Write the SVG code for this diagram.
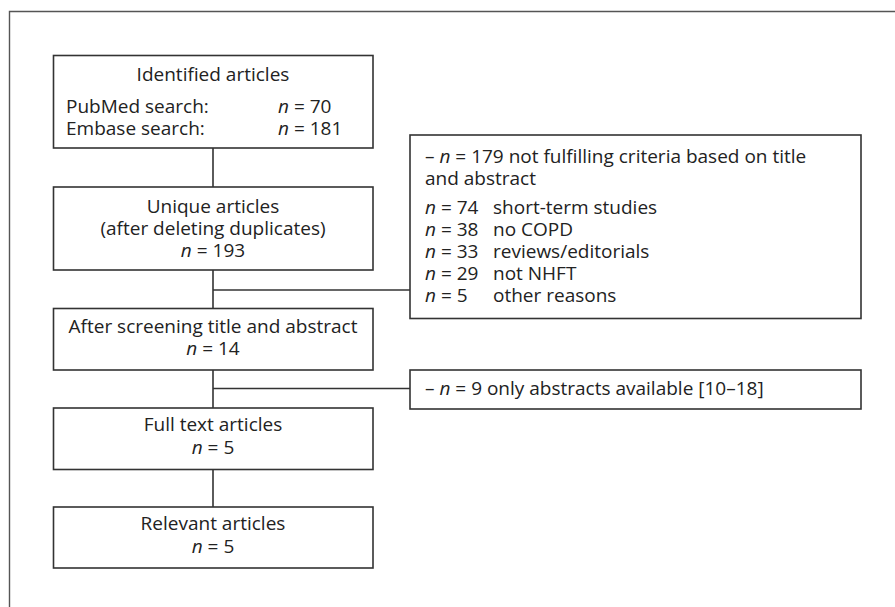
<svg xmlns="http://www.w3.org/2000/svg" width="895" height="607" viewBox="0 0 895 607">
<style>
.box{fill:#fff;stroke:#333;stroke-width:1.6}
.ln{fill:none;stroke:#333;stroke-width:1.6}
text{font-family:"Open Sans","Noto Sans","DejaVu Sans",sans-serif;font-size:19px;fill:#222}
.c{text-anchor:middle}
.i{font-style:italic}
</style>
<rect width="895" height="607" fill="#fff"/>
<path d="M9.5,607 V11.5 H895" fill="none" stroke="#555" stroke-width="1.4"/>
<g id="connectors">
<path class="ln" d="M213,148 V187"/>
<path class="ln" d="M213,270 V308.5"/>
<path class="ln" d="M213,290 H410"/>
<path class="ln" d="M213,370 V408"/>
<path class="ln" d="M213,388.5 H410"/>
<path class="ln" d="M213,469.5 V507"/>
</g>
<g id="identified">
<rect class="box" x="53.5" y="55.5" width="319.5" height="92.5"/>
<text class="c" x="213" y="81">Identified articles</text>
<text x="66" y="113">PubMed search:</text>
<text x="278" y="113"><tspan class="i">n</tspan> = 70</text>
<text x="66" y="135">Embase search:</text>
<text x="278" y="135"><tspan class="i">n</tspan> = 181</text>
</g>
<g id="unique">
<rect class="box" x="53.5" y="187" width="319.5" height="83"/>
<text class="c" x="213" y="213">Unique articles</text>
<text class="c" x="213" y="235">(after deleting duplicates)</text>
<text class="c" x="213" y="257"><tspan class="i">n</tspan> = 193</text>
</g>
<g id="excluded1">
<rect class="box" x="410" y="135" width="451" height="183.5"/>
<text x="425" y="163">– <tspan class="i">n</tspan> = 179 not fulfilling criteria based on title</text>
<text x="425" y="185">and abstract</text>
<text x="425" y="214"><tspan class="i">n</tspan> = 74</text><text x="493" y="214">short-term studies</text>
<text x="425" y="236"><tspan class="i">n</tspan> = 38</text><text x="493" y="236">no COPD</text>
<text x="425" y="258"><tspan class="i">n</tspan> = 33</text><text x="493" y="258">reviews/editorials</text>
<text x="425" y="280"><tspan class="i">n</tspan> = 29</text><text x="493" y="280">not NHFT</text>
<text x="425" y="302"><tspan class="i">n</tspan> = 5</text><text x="493" y="302">other reasons</text>
</g>
<g id="screening">
<rect class="box" x="53.5" y="308.5" width="319.5" height="61.5"/>
<text class="c" x="213" y="333">After screening title and abstract</text>
<text class="c" x="213" y="355"><tspan class="i">n</tspan> = 14</text>
</g>
<g id="excluded2">
<rect class="box" x="410" y="370" width="451" height="39"/>
<text x="425" y="395">– <tspan class="i">n</tspan> = 9 only abstracts available [10–18]</text>
</g>
<g id="fulltext">
<rect class="box" x="53.5" y="408" width="319.5" height="61.5"/>
<text class="c" x="213" y="431">Full text articles</text>
<text class="c" x="213" y="454"><tspan class="i">n</tspan> = 5</text>
</g>
<g id="relevant">
<rect class="box" x="53.5" y="507" width="319.5" height="61"/>
<text class="c" x="213" y="530">Relevant articles</text>
<text class="c" x="213" y="553"><tspan class="i">n</tspan> = 5</text>
</g>
</svg>
